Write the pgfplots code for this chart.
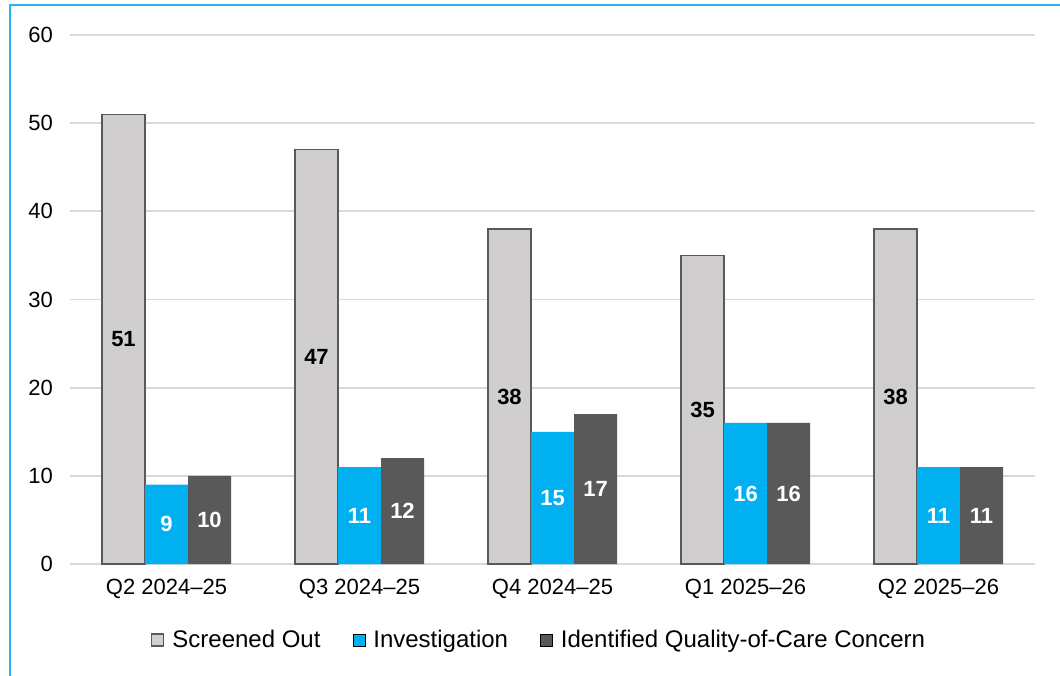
\documentclass[border=0pt]{standalone}
\usepackage{pgfplots}
\pgfplotsset{compat=1.18}
\usepackage{fontspec}
\setmainfont{Liberation Sans}
\definecolor{soGray}{RGB}{208,206,206}
\definecolor{edgeGray}{RGB}{89,89,89}
\definecolor{invBlue}{RGB}{0,176,240}
\definecolor{iqcGray}{RGB}{89,89,89}
\definecolor{gridGray}{RGB}{217,217,217}
\definecolor{frameBlue}{RGB}{40,180,240}
\begin{document}
\begin{tikzpicture}
\useasboundingbox (0pt,0pt) rectangle (530pt,-337.5pt);
\draw[frameBlue,line width=1pt] (5pt,-338pt) -- (5pt,-2.5pt) -- (531pt,-2.5pt);
\begin{axis}[
  at={(35pt,-282pt)}, anchor=south west,
  scale only axis, width=482.5pt, height=264.5pt,
  ybar=0pt, bar width=21.5pt,
  xmin=-0.5, xmax=4.5, ymin=0, ymax=60,
  ytick={0,10,...,60},
  xtick=data,
  xticklabels={Q2 2024–25,Q3 2024–25,Q4 2024–25,Q1 2025–26,Q2 2025–26},
  axis line style={draw=none},
  major tick length=0pt,
  ymajorgrids, grid style={gridGray,line width=0.9pt},
  tick label style={font=\fontsize{11}{13}\selectfont},
  /pgf/number format/assume math mode=true,
  yticklabel style={xshift=-5pt},
  xticklabel style={yshift=-4pt},
  legend style={at={(0.487,-0.144)}, anchor=center, draw=none, fill=none,
    legend columns=3, font=\fontsize{12}{14}\selectfont,
    /tikz/every odd column/.append style={column sep=2pt},
    /tikz/every even column/.append style={column sep=14pt}},
  legend image code/.code={\draw[#1,bar width=0pt,bar shift=0pt] (0pt,-3pt) rectangle (6pt,3pt);},
  legend cell align=left,
  visualization depends on={rawy \as \rawy},
  nodes near coords,
  nodes near coords style={anchor=center, font=\fontsize{11}{13}\selectfont\bfseries, yshift=-\rawy*2.204167pt},
]
\addplot[fill=soGray, draw=edgeGray, line width=0.8pt, nodes near coords style={text=black}]
  coordinates {(0,51) (1,47) (2,38) (3,35) (4,38)};
\addplot[fill=invBlue, draw=none, nodes near coords style={text=white}]
  coordinates {(0,9) (1,11) (2,15) (3,16) (4,11)};
\addplot[fill=iqcGray, draw=none, nodes near coords style={text=white}]
  coordinates {(0,10) (1,12) (2,17) (3,16) (4,11)};
\legend{Screened Out,Investigation,Identified Quality-of-Care Concern}
\end{axis}
\end{tikzpicture}
\end{document}
